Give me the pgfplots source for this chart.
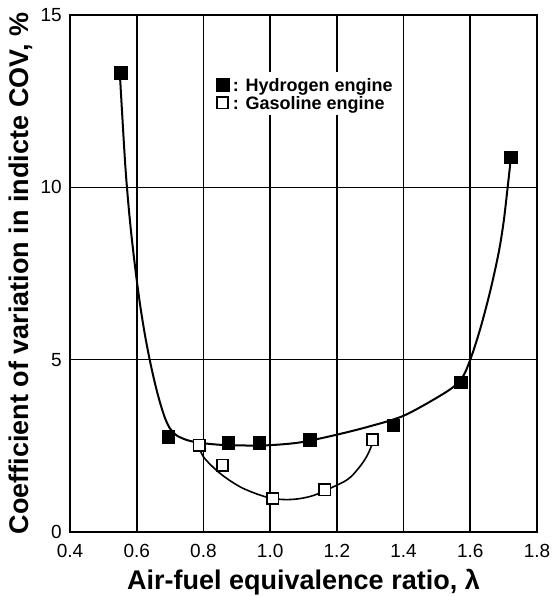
\documentclass[border=0pt]{standalone}
\usepackage{fontspec}
\setmainfont{Liberation Sans}
\usepackage{pgfplots}
\pgfplotsset{compat=1.18}
\begin{document}
\begin{tikzpicture}
\begin{axis}[
  name=ax,
  at={(0,0)}, anchor=south west,
  scale only axis, width=467pt, height=517pt,
  xmin=0.4, xmax=1.8, ymin=0, ymax=15,
  xtick={0.4,0.6,0.8,1.0,1.2,1.4,1.6,1.8},
  xticklabels={0.4,0.6,0.8,1.0,1.2,1.4,1.6,1.8},
  ytick={0,5,10,15},
  major tick length=0pt,
  grid=major,
  grid style={black, line width=1.6pt},
  axis line style={black, line width=2.8pt},
  /pgf/number format/assume math mode=true,
  tick label style={font=\fontsize{19}{21}\selectfont},
  xticklabel style={anchor=base, yshift=-25pt},
  yticklabel style={anchor=east, inner xsep=0pt, xshift=-8pt},
  xlabel={Air-fuel equivalence ratio, λ},
  ylabel={Coefficient of variation in indicte COV, \%},
  label style={font=\fontsize{27}{30}\selectfont\bfseries},
  xlabel style={at={(axis description cs:0.5,0)}, anchor=base, yshift=-57pt},
  ylabel style={at={(axis description cs:-0.105,0.5)}, anchor=center},
  legend style={at={(axis cs:0.82,13.35)}, anchor=north west, draw=none, fill=white,
    inner xsep=6pt, inner ysep=4pt, font=\fontsize{18}{20}\selectfont\bfseries,
    row sep=1.3pt, column sep=4pt,
    nodes={inner sep=0pt, text height=15pt, text depth=2pt}},
  legend cell align=left,
  legend image code/.code={\draw[#1] plot coordinates {(0pt,0pt)};},
]
% fitted curves
\addplot[forget plot, black, line width=2pt, smooth, tension=0.5] coordinates {
(0.550,13.2) (0.566,10.6) (0.58,9.0) (0.595,7.7) (0.61,6.6) (0.625,5.7) (0.64,4.95)
(0.655,4.3) (0.67,3.75) (0.685,3.3) (0.70,3.0) (0.72,2.8) (0.75,2.67) (0.787,2.59)
(0.85,2.53) (0.92,2.51) (1.0,2.52) (1.09,2.6) (1.194,2.81) (1.3,3.07) (1.404,3.39)
(1.529,4.07) (1.574,4.45) (1.60,5.0) (1.63,5.9) (1.66,7.0) (1.685,8.1) (1.70,9.0)
(1.712,10.0) (1.720,10.7)};
\addplot[forget plot, black, line width=1.6pt, smooth, tension=0.55] coordinates {
(0.787,2.52) (0.80,2.18) (0.85,1.70) (0.91,1.31) (0.97,1.07) (1.01,0.97) (1.05,0.94)
(1.09,0.97) (1.13,1.06) (1.164,1.2) (1.23,1.51) (1.265,1.85) (1.29,2.2) (1.306,2.55)};
% data points
\addplot[only marks, mark=square*, mark size=6.3pt, mark options={fill=black, draw=black, line width=0.5pt}] coordinates {
(0.553,13.32) (0.695,2.77) (0.875,2.59) (0.967,2.59) (1.119,2.67) (1.369,3.10) (1.572,4.35) (1.721,10.87)};
\addlegendentry{: Hydrogen engine}
\addplot[only marks, mark=square*, mark size=5.6pt, mark options={fill=white, draw=black, line width=1.8pt}] coordinates {
(0.787,2.52) (0.857,1.94) (1.008,0.98) (1.164,1.22) (1.306,2.67)};
\addlegendentry{: Gasoline engine}
\end{axis}
\pgfresetboundingbox
\path ([xshift=-70pt,yshift=-64pt]ax.south west) rectangle ([xshift=14pt,yshift=15pt]ax.north east);
\end{tikzpicture}
\end{document}
